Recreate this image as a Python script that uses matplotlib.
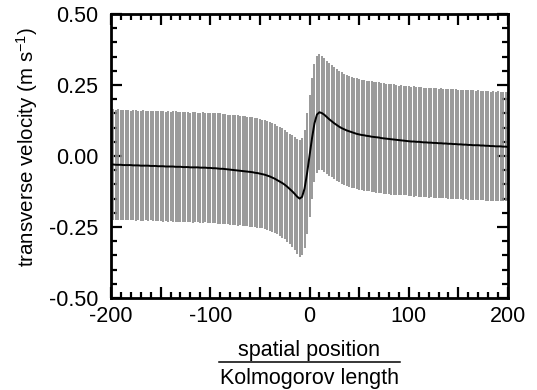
import matplotlib as mpl
mpl.use("Agg")
import matplotlib.pyplot as plt
import numpy as np
from matplotlib.lines import Line2D
from matplotlib.ticker import MultipleLocator, FuncFormatter

mpl.rcParams.update({
    "font.family": ["Liberation Sans", "DejaVu Sans"],
    "font.size": 15.5,
    "axes.unicode_minus": False,
    "mathtext.fontset": "custom",
    "mathtext.rm": "Liberation Sans",
    "mathtext.it": "Liberation Sans:italic",
    "mathtext.bf": "Liberation Sans:bold",
})

# --- data ---
# bar positions: every 2.5 Kolmogorov lengths from -200 to 200
position = np.arange(-200.0, 200.0 + 1e-9, 2.5)

mean_velocity = [
    # -200 .. -100
    -0.030, -0.030, -0.031, -0.031, -0.031, -0.032, -0.032, -0.032, -0.032, -0.033,
    -0.033, -0.033, -0.034, -0.034, -0.034, -0.034, -0.035, -0.035, -0.035, -0.036,
    -0.036, -0.036, -0.037, -0.037, -0.037, -0.037, -0.038, -0.038, -0.038, -0.039,
    -0.039, -0.039, -0.040, -0.040, -0.040, -0.040, -0.041, -0.041, -0.041, -0.042,
    -0.042,
    # -97.5 .. -50
    -0.043, -0.043, -0.044, -0.045, -0.045, -0.046, -0.047, -0.048, -0.049, -0.050,
    -0.051, -0.052, -0.053, -0.054, -0.055, -0.056, -0.057, -0.059, -0.060, -0.062,
    # -47.5 .. 0
    -0.064, -0.066, -0.069, -0.072, -0.076, -0.080, -0.085, -0.090, -0.095, -0.101,
    -0.108, -0.116, -0.124, -0.133, -0.143, -0.150, -0.144, -0.115, -0.062, 0.000,
    # 2.5 .. 50
    0.062, 0.115, 0.146, 0.154, 0.151, 0.145, 0.137, 0.129, 0.122, 0.115,
    0.109, 0.103, 0.098, 0.094, 0.090, 0.087, 0.084, 0.081, 0.078, 0.076,
    # 52.5 .. 100
    0.074, 0.073, 0.071, 0.070, 0.068, 0.067, 0.066, 0.065, 0.063, 0.062,
    0.061, 0.060, 0.059, 0.058, 0.057, 0.056, 0.055, 0.054, 0.053, 0.052,
    # 102.5 .. 150
    0.051, 0.051, 0.050, 0.050, 0.049, 0.048, 0.048, 0.047, 0.047, 0.046,
    0.046, 0.045, 0.045, 0.044, 0.044, 0.043, 0.043, 0.042, 0.042, 0.041,
    # 152.5 .. 200
    0.041, 0.040, 0.040, 0.039, 0.039, 0.038, 0.038, 0.038, 0.037, 0.037,
    0.036, 0.036, 0.035, 0.035, 0.034, 0.034, 0.034, 0.033, 0.033, 0.032,
]

std_velocity = [
    # -200 .. -100
    0.192, 0.194, 0.193, 0.195, 0.194, 0.193, 0.195, 0.194, 0.192, 0.194,
    0.195, 0.193, 0.194, 0.195, 0.193, 0.194, 0.192, 0.195, 0.194, 0.193,
    0.194, 0.195, 0.193, 0.194, 0.192, 0.194, 0.195, 0.193, 0.194, 0.195,
    0.193, 0.194, 0.192, 0.195, 0.194, 0.193, 0.194, 0.195, 0.193, 0.194,
    0.195,
    # -97.5 .. -50
    0.194, 0.193, 0.194, 0.195, 0.193, 0.194, 0.192, 0.194, 0.195, 0.193,
    0.194, 0.192, 0.193, 0.194, 0.192, 0.193, 0.194, 0.192, 0.193, 0.191,
    # -47.5 .. 0
    0.191, 0.192, 0.191, 0.192, 0.191, 0.192, 0.191, 0.192, 0.193, 0.193,
    0.194, 0.195, 0.197, 0.199, 0.202, 0.205, 0.206, 0.208, 0.212, 0.215,
    # 2.5 .. 50
    0.212, 0.208, 0.206, 0.204, 0.202, 0.200, 0.199, 0.198, 0.197, 0.197,
    0.196, 0.196, 0.197, 0.196, 0.195, 0.196, 0.195, 0.194, 0.195, 0.194,
    # 52.5 .. 100
    0.194, 0.195, 0.194, 0.193, 0.195, 0.194, 0.196, 0.194, 0.193, 0.195,
    0.194, 0.193, 0.195, 0.194, 0.193, 0.192, 0.194, 0.193, 0.192, 0.193,
    # 102.5 .. 150
    0.193, 0.194, 0.192, 0.193, 0.194, 0.193, 0.192, 0.194, 0.193, 0.194,
    0.193, 0.192, 0.194, 0.193, 0.192, 0.194, 0.193, 0.194, 0.193, 0.192,
    # 152.5 .. 200
    0.193, 0.194, 0.192, 0.193, 0.194, 0.193, 0.192, 0.194, 0.193, 0.192,
    0.193, 0.194, 0.192, 0.193, 0.192, 0.194, 0.193, 0.192, 0.193, 0.192,
]

mean_velocity = np.asarray(mean_velocity)
std_velocity = np.asarray(std_velocity)

fig = plt.figure(figsize=(5.37, 3.90), dpi=100)
ax = fig.add_axes([111 / 537, 1 - 298 / 390, 397 / 537, 284 / 390])

# error bars as thin gray vertical lines, mean on top
ax.vlines(position, mean_velocity - std_velocity, mean_velocity + std_velocity,
          color="#8c8c8c", linewidth=1.25)
ax.plot(position, mean_velocity, color="black", linewidth=1.4, zorder=5)

ax.set_xlim(-200, 200)
ax.set_ylim(-0.5, 0.5)

ax.xaxis.set_major_locator(MultipleLocator(50))
ax.xaxis.set_minor_locator(MultipleLocator(10))
ax.xaxis.set_major_formatter(FuncFormatter(lambda v, p: f"{v:.0f}" if round(v) % 100 == 0 else ""))
ax.yaxis.set_major_locator(MultipleLocator(0.25))
ax.yaxis.set_minor_locator(MultipleLocator(0.05))
ax.yaxis.set_major_formatter(FuncFormatter(lambda v, p: f"{v:.2f}"))

for s in ax.spines.values():
    s.set_linewidth(2.0)
ax.tick_params(which="both", direction="in", top=True, right=True, width=1.6)
ax.tick_params(which="major", length=8)
ax.tick_params(which="minor", length=4.5)
ax.tick_params(axis="x", which="major", pad=6)
ax.tick_params(axis="y", which="major", pad=9)

# axis labels
fig.text(27 / 537, 1 - 147 / 390, "transverse velocity (m s$^{\\mathregular{-1}}$)",
         rotation=90, ha="center", va="center", fontsize=14.8)
fig.text(309 / 537, 1 - 356 / 390, "spatial position", ha="center", va="baseline")
fig.text(309 / 537, 1 - 384 / 390, "Kolmogorov length", ha="center", va="baseline")
fig.add_artist(Line2D([219 / 537, 400 / 537], [1 - 362 / 390, 1 - 362 / 390],
                      transform=fig.transFigure, color="black", linewidth=1.1))

fig.savefig("out.png", dpi=100)
